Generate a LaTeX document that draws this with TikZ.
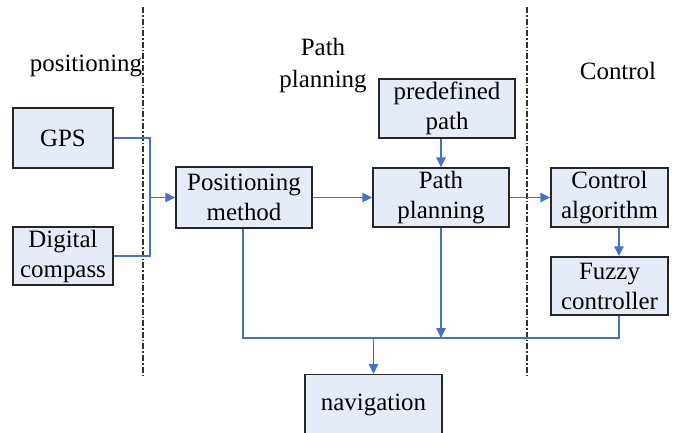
\documentclass[tikz,border=0pt]{standalone}
\usepackage{fontspec}
\newfontfamily\tnr{LiberationSerif-Regular.ttf}
\usetikzlibrary{arrows.meta}
\definecolor{linkblue}{RGB}{68,114,196}
\definecolor{boxfill}{RGB}{230,236,247}
\definecolor{sepgray}{RGB}{50,50,50}
\tikzset{
  blk/.style={draw=black!85, line width=1.1pt, fill=boxfill, align=center,
    inner sep=0pt, font=\tnr\fontsize{18.7}{22.5}\selectfont},
  lbl/.style={inner sep=0pt, align=center, font=\tnr\fontsize{18.7}{24}\selectfont},
  link/.style={draw=linkblue, line width=1.1pt},
  arr/.style={link, -{Triangle[length=7.5pt,width=7pt]}},
  sep/.style={draw=sepgray, line width=1pt, dash pattern=on 4.5pt off 1.5pt on 1.2pt off 1.5pt}
}
\begin{document}
\begin{tikzpicture}[x=0.75pt,y=-0.75pt]
\useasboundingbox (0,0) rectangle (680,432);
\clip (0,0) rectangle (680,432);

% column separators
\draw[sep] (143,7) -- (143,375);
\draw[sep] (527,7) -- (527,375);

% column headings
\node[lbl, anchor=base] (hpos) at (86,71) {positioning};
\node[lbl] (hpath) at (323,66) {Path\\planning};
\node[lbl, anchor=base] (hctl) at (618,79) {Control};

% blocks
\node[blk, minimum width=75pt, minimum height=45pt] (gps) at (63,138) {GPS};
\node[blk, minimum width=75pt, minimum height=43.5pt] (dc) at (63,256) {Digital\\compass};
\node[blk, minimum width=102pt, minimum height=45.75pt] (pm) at (244,197.5) {Positioning\\method};
\node[blk, minimum width=102pt, minimum height=44.25pt] (pd) at (447,108.5) {predefined\\path};
\node[blk, minimum width=102pt, minimum height=44.25pt] (pp) at (441,197.5) {Path\\planning};
\node[blk, minimum width=87.75pt, minimum height=44.25pt] (ca) at (609.5,197.5) {Control\\algorithm};
\node[blk, minimum width=87.75pt, minimum height=43.5pt] (fc) at (609.5,286) {Fuzzy\\controller};
\node[blk, minimum width=102.75pt, minimum height=49.5pt, anchor=north] (nav) at (373.5,374) {\raisebox{7.5pt}{navigation}};

% junction points
\coordinate (jin) at (150,197.5);
\coordinate (jfc) at (619,338);
\coordinate (jpm) at (243,338);
\coordinate (jpp) at (441,338);
\coordinate (jnav) at (373.5,338);

% sensor inputs merge into the positioning method
\draw[link] (gps.east) -| (jin) |- (dc.east);
\draw[arr] (jin) -- (pm.west);

% main chain
\draw[arr] (pm.east) -- (pp.west);
\draw[arr] (pp.east) -- (ca.west);
\draw[arr] (pd.south -| pp.north) -- (pp.north);
\draw[arr] (ca.south -| jfc) -- (fc.north -| jfc);

% feedback bus to navigation
\draw[link] (fc.south -| jfc) -- (jfc) -- (jpm) -- (pm.south -| jpm);
\draw[arr] (pp.south) -- (jpp);
\draw[arr] (jnav) -- (nav.north);
\end{tikzpicture}
\end{document}
